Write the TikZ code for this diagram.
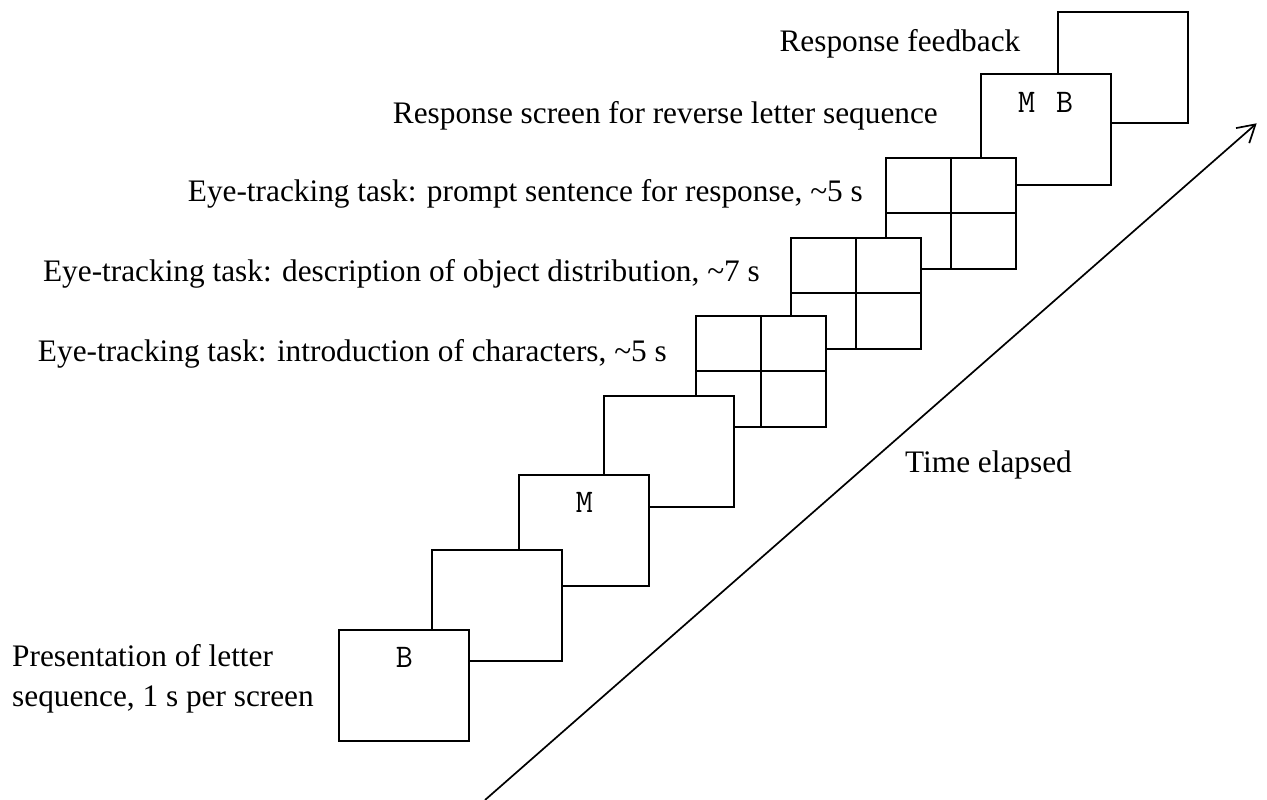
\documentclass[tikz,border=0pt]{standalone}
\usepackage{fontspec}
\setmainfont{Liberation Serif}
\usetikzlibrary{arrows.meta}

\tikzset{
  screen/.style={draw=black, fill=white, line width=2pt, rectangle,
    minimum width=130pt, minimum height=111pt, inner sep=0pt, outer sep=0pt,
    anchor=north west},
  gridline/.style={draw=black, line width=2pt},
  caption/.style={inner sep=0pt, font=\fontsize{31.3}{40}\selectfont},
  letter/.style={inner sep=0pt, anchor=base, font=\ttfamily\fontsize{33}{33}\selectfont},
  timeline/.style={draw=black, line width=1.7pt,
    -{Straight Barb[length=17pt,width=20pt,line width=1.7pt]}}
}

\begin{document}
\begin{tikzpicture}[x=1pt,y=-1pt]
\useasboundingbox (0,0) rectangle (1267,800);

% screens, drawn from the last (back) to the first (front)
\node[screen] (s9) at (1057.7,11.7) {};
\node[screen] (s8) at (980.7,74) {};
\node[screen] (s7) at (886,157.7) {};
\node[screen] (s6) at (791,237.5) {};
\node[screen] (s5) at (696,315.5) {};
\node[screen] (s4) at (603.5,395.5) {};
\node[screen] (s3) at (519.3,474.5) {};
\node[screen] (s2) at (431.7,549.5) {};
\node[screen] (s1) at (339.3,629.5) {};

% four-quadrant layout of the eye-tracking screens
\foreach \s in {s5,s6,s7}{
  \draw[gridline] (\s.north) -- (\s.south) (\s.west) -- (\s.east);
}

% letters shown on the screens
\node[letter] (lb) at ([yshift=-38pt]s1.north) {B};
\node[letter] (lm) at ([yshift=-38pt]s3.north) {M};
\node[letter] (lmb) at ([yshift=-38pt]s8.north) {M\hspace{4pt} B};

% time axis
\coordinate (t0) at (485,800);
\coordinate (t1) at (1256.7,123.3);
\draw[timeline] (t0) -- (t1);
\node[caption, anchor=base west] (time) at (905,472) {Time elapsed};

% phase descriptions
\node[caption, anchor=base east] (c9) at (1020.5,52) {Response feedback};
\node[caption, anchor=base east] (c8) at (938,124) {Response screen for reverse letter sequence};
\node[caption, anchor=base east] (c7) at (863,201) {Eye-tracking task: prompt sentence for response, \textasciitilde5 s};
\node[caption, anchor=base east] (c6) at (760,281) {Eye-tracking task: description of object distribution, \textasciitilde7 s};
\node[caption, anchor=base east] (c5) at (667,361) {Eye-tracking task: introduction of characters, \textasciitilde5 s};
\node[caption, anchor=base west, align=left] (c1) at (12,706.7) {Presentation of letter\\sequence, 1 s per screen};
\end{tikzpicture}
\end{document}
